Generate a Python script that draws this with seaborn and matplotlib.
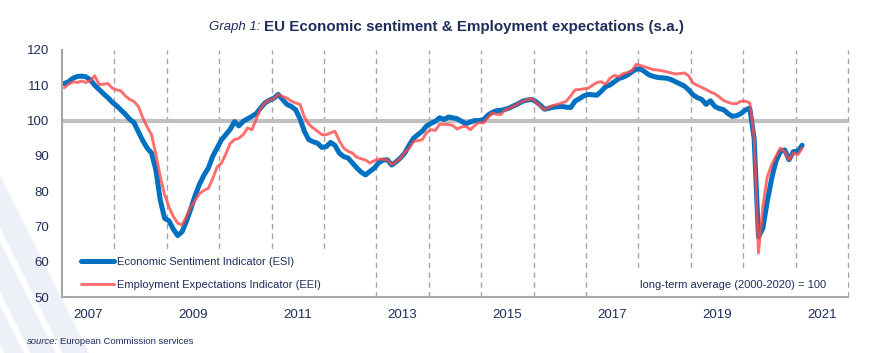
import numpy as np
import pandas as pd
import matplotlib
matplotlib.use("Agg")
import matplotlib.pyplot as plt
from matplotlib.patches import Rectangle, Polygon
import seaborn as sns

# monthly values, Jan 2007 - Feb 2021
esi = [
    110.5, 111.0, 112.0, 112.5, 112.6, 112.4, 111.5, 110.0, 108.8, 107.6, 106.5, 105.2,  # 2007
    104.2, 103.0, 101.8, 100.4, 99.4, 96.8, 94.3, 92.2, 90.8, 86.0, 77.5, 72.3,         # 2008
    71.6, 69.2, 67.4, 68.5, 71.5, 75.0, 78.8, 82.0, 84.5, 86.5, 89.8, 92.2,             # 2009
    94.5, 96.0, 97.5, 99.7, 98.5, 99.8, 100.5, 101.2, 102.0, 103.6, 105.0, 105.8,       # 2010
    106.3, 107.4, 106.0, 104.6, 104.0, 103.1, 100.5, 97.0, 94.6, 94.0, 93.6, 92.4,      # 2011
    92.6, 93.8, 93.0, 90.8, 89.8, 89.4, 88.0, 86.6, 85.4, 84.6, 85.6, 86.5,             # 2012
    88.0, 88.8, 88.9, 87.4, 88.3, 89.4, 90.8, 93.0, 95.0, 96.0, 97.0, 98.5,             # 2013
    99.2, 99.8, 100.8, 100.3, 101.0, 100.8, 100.5, 99.8, 99.1, 99.6, 100.0, 100.0,      # 2014
    100.2, 101.5, 102.3, 102.8, 102.9, 103.2, 103.6, 104.2, 104.8, 105.5, 105.8, 106.0, # 2015
    105.4, 104.4, 103.2, 103.5, 103.8, 103.9, 104.0, 103.8, 103.7, 105.5, 106.2, 107.0, # 2016
    107.4, 107.3, 107.2, 108.3, 109.6, 110.1, 111.0, 111.9, 112.3, 112.9, 113.8, 114.6, # 2017
    114.6, 113.8, 112.9, 112.5, 112.2, 112.1, 112.0, 111.6, 111.0, 110.4, 109.8, 108.7, # 2018
    107.3, 106.5, 106.0, 104.6, 105.6, 104.0, 103.4, 103.1, 102.0, 101.2, 101.4, 102.0, # 2019
    103.0, 103.5, 95.0, 67.0, 69.5, 77.0, 83.5, 88.5, 91.2, 91.7, 88.9, 91.2,           # 2020
    91.3, 93.0,                                                                          # 2021
]
eei = [
    109.3, 110.3, 111.0, 110.8, 111.2, 110.8, 111.3, 112.7, 110.2, 110.3, 110.5, 109.2,  # 2007
    108.7, 108.4, 107.0, 106.0, 105.4, 104.0, 100.8, 98.2, 96.0, 90.5, 84.1, 79.0,      # 2008
    75.5, 72.8, 70.9, 70.4, 72.8, 75.5, 77.5, 79.3, 80.2, 80.8, 83.5, 86.8,             # 2009
    87.9, 90.5, 93.5, 94.6, 95.0, 96.0, 97.9, 97.4, 100.5, 103.5, 105.0, 105.8,         # 2010
    106.2, 107.4, 106.8, 106.4, 105.5, 105.0, 104.6, 101.0, 99.0, 97.9, 97.0, 96.0,     # 2011
    96.0, 96.5, 97.0, 94.3, 92.2, 91.3, 90.8, 89.6, 89.2, 88.8, 88.0, 88.6,             # 2012
    89.1, 89.0, 88.9, 87.5, 88.3, 89.3, 91.0, 92.2, 94.1, 94.3, 94.6, 96.6,             # 2013
    97.4, 97.2, 99.0, 98.9, 98.9, 98.6, 97.6, 98.2, 98.4, 97.4, 98.6, 99.5,             # 2014
    99.3, 100.8, 102.2, 101.8, 101.7, 103.1, 103.5, 104.1, 104.8, 105.5, 105.9, 106.2,  # 2015
    105.3, 104.1, 103.1, 103.8, 104.3, 104.6, 105.0, 105.5, 107.0, 108.7, 108.8, 109.0, # 2016
    109.2, 110.0, 110.8, 111.0, 110.3, 112.0, 112.8, 112.4, 113.3, 113.6, 114.1, 115.9, # 2017
    115.6, 115.2, 114.8, 114.4, 114.3, 114.1, 113.8, 113.5, 113.2, 113.3, 113.5, 112.7, # 2018
    110.6, 110.0, 109.4, 108.8, 108.1, 107.6, 106.7, 105.7, 105.2, 104.8, 104.8, 105.5, # 2019
    105.5, 105.0, 95.5, 62.5, 75.5, 84.0, 87.4, 89.8, 92.2, 91.2, 88.9, 90.8,           # 2020
    90.3, 92.2,                                                                          # 2021
]
start_year = 2007
tick_years = [2007, 2009, 2011, 2013, 2015, 2017, 2019, 2021]
y_ticks = [50, 60, 70, 80, 90, 100, 110, 120]

esi_label = "Economic Sentiment Indicator (ESI)"
eei_label = "Employment Expectations Indicator (EEI)"

BLUE = "#0070C0"
RED = "#FF4A4A"
NAVY = "#1F2D5C"
GREY = "#A6A6A6"
FONT = ["Liberation Sans", "DejaVu Sans"]

sns.set_style("white")
plt.rcParams["font.family"] = FONT

df = pd.DataFrame({"ESI": esi, "EEI": eei})
df["x"] = start_year + (np.arange(len(df)) + 0.5) / 12

W, H = 877, 353
fig = plt.figure(figsize=(W / 100, H / 100), dpi=100)
ax = fig.add_axes([62 / W, 1 - 297 / H, (848 - 62) / W, (297 - 50) / H])
ax.set_zorder(1)
ax.patch.set_alpha(0)

# faint watermark bands at the bottom left (pixel coords, y from top)
for c1, c2 in [(175, 228), (242, 292), (305, 345)]:
    pts = [(0, c1), (0, c2), ((H - c2) / 2, H), ((H - c1) / 2, H)]
    fig.patches.append(Polygon([[px / W, 1 - py / H] for px, py in pts], closed=True,
                               transform=fig.transFigure, facecolor="#EEF0F7",
                               edgecolor="none", zorder=0))
# plot area stays white
fig.patches.append(Rectangle((62 / W, 1 - 297 / H), (848 - 62) / W, (297 - 50) / H,
                             transform=fig.transFigure, facecolor="white", edgecolor="none",
                             zorder=0.5))

for yr in range(start_year + 1, start_year + 16):
    ax.axvline(yr, color=GREY, lw=1, ls=(0, (4, 3)), zorder=1, clip_on=False)
ax.axhline(100, color="#BFBFBF", lw=3, zorder=1.5)

sns.lineplot(data=df, x="x", y="ESI", ax=ax, color=BLUE, lw=3.6, label=esi_label, zorder=3)
sns.lineplot(data=df, x="x", y="EEI", ax=ax, color=RED, lw=2.1, alpha=0.8, label=eei_label, zorder=4)

ax.set_xlim(start_year, start_year + 15)
ax.set_ylim(50, 120)
ax.set_xticks([y + 0.5 for y in tick_years])
ax.set_xticklabels([str(y) for y in tick_years])
ax.set_yticks(y_ticks)
ax.tick_params(length=0, labelsize=9.5, colors=NAVY)
ax.tick_params(axis="y", pad=9)
ax.tick_params(axis="x", pad=9)
ax.set_xlabel("")
ax.set_ylabel("")
for s in ["top", "right"]:
    ax.spines[s].set_visible(False)
for s in ["left", "bottom"]:
    ax.spines[s].set_color(GREY)
    ax.spines[s].set_linewidth(1.5)
    ax.spines[s].set_zorder(6)

leg = ax.legend(loc="lower left", bbox_to_anchor=(12 / 786, 0.0), frameon=True, fancybox=False,
                framealpha=1, edgecolor="none", facecolor="white", handlelength=3.0,
                handletextpad=0.25, borderpad=0.5, labelspacing=1.2, borderaxespad=0.1,
                prop={"size": 8}, labelcolor=NAVY)
leg.set_zorder(5)

# white box behind the note at the bottom right
ax.add_patch(Rectangle((2017.45, 50.2), 4.55, 8.1, facecolor="white", edgecolor="none", zorder=2))
ax.text(2021.58, 53.4, "long-term average (2000-2020) = 100", ha="right", va="center",
        fontsize=8.0, color=NAVY, zorder=5)

fig.canvas.draw()
r = fig.canvas.get_renderer()


def two_part(x, y, first, second, size1, size2, kw1, kw2, gap=3):
    t1 = fig.text(x / W, 1 - y / H, first, ha="left", va="center", fontsize=size1, color=NAVY, **kw1)
    bb = t1.get_window_extent(r)
    fig.text((bb.x1 + gap) / W, 1 - y / H, second, ha="left", va="center", fontsize=size2,
             color=NAVY, **kw2)


two_part(209, 27, "Graph 1:", "EU Economic sentiment & Employment expectations (s.a.)",
         9.5, 10.9, {"style": "italic"}, {"weight": "bold"}, gap=4)
two_part(27, 342, "source:", "European Commission services", 6.8, 6.8,
         {"style": "italic"}, {}, gap=2)

fig.savefig("out.png", dpi=100, facecolor="white")
